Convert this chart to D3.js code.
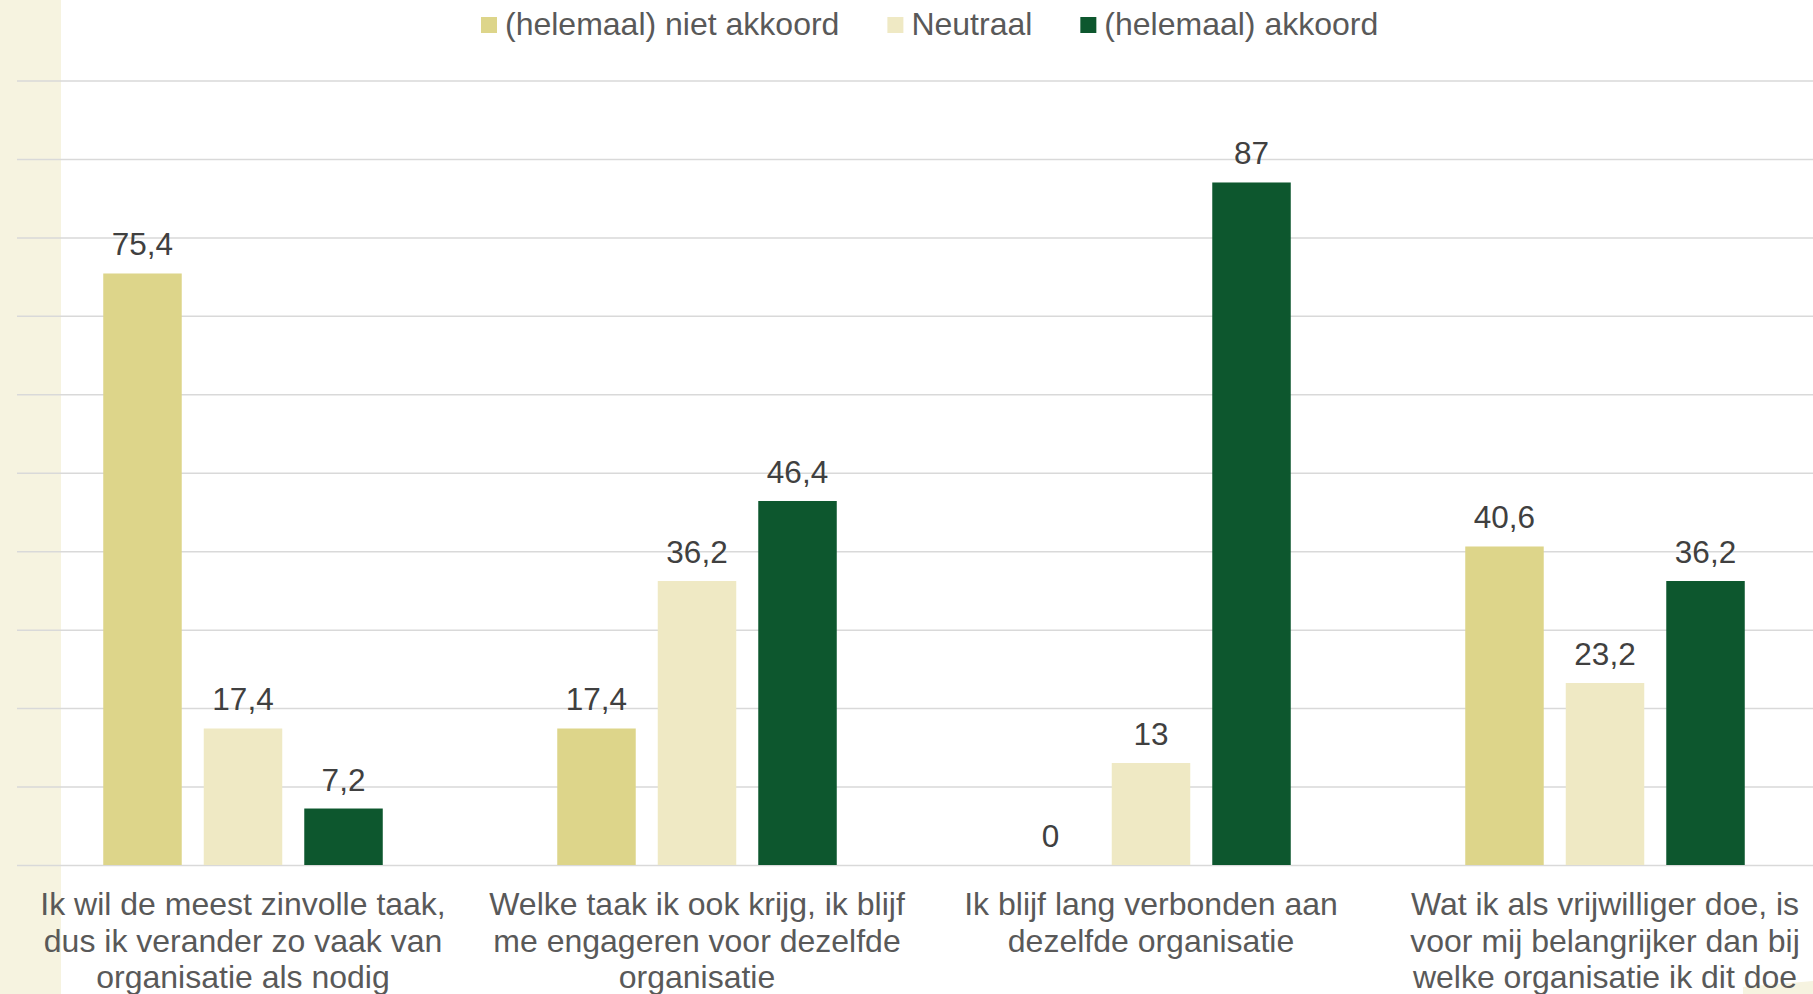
<!DOCTYPE html>
<html>
<head>
<meta charset="utf-8">
<script src="https://cdn.jsdelivr.net/npm/d3@7"></script>
<style>
  body { margin: 0; background: #fff; }
  svg { display: block; font-family: "Liberation Sans", Arial, sans-serif; }
</style>
</head>
<body>
<svg id="chart"></svg>
<script>
// data
var categories = [
  ["Ik wil de meest zinvolle taak,", "dus ik verander zo vaak van", "organisatie als nodig"],
  ["Welke taak ik ook krijg, ik blijf", "me engageren voor dezelfde", "organisatie"],
  ["Ik blijf lang verbonden aan", "dezelfde organisatie"],
  ["Wat ik als vrijwilliger doe, is", "voor mij belangrijker dan bij", "welke organisatie ik dit doe"]
];
var seriesNames = ["(helemaal) niet akkoord", "Neutraal", "(helemaal) akkoord"];
var nietAkkoord = [75.4, 17.4, 0, 40.6];
var neutraal = [17.4, 36.2, 13, 23.2];
var akkoord = [7.2, 46.4, 87, 36.2];
var yTicks = [0, 10, 20, 30, 40, 50, 60, 70, 80, 90, 100];

var colors = ["#ddd58a", "#efe9c4", "#0d572e"];

var W = 1813, H = 994;
var svg = d3.select("#chart").attr("width", W).attr("height", H);

var nl = d3.formatLocale({decimal: ",", thousands: ".", grouping: [3], currency: ["€", ""]});
var fmt = nl.format("~r");

var rows = categories.map(function(c, i) {
  return {key: i, lines: c, values: [nietAkkoord[i], neutraal[i], akkoord[i]]};
});

// cream strip on the left
svg.append("rect")
  .attr("x", 0).attr("y", 0).attr("width", 61).attr("height", H)
  .attr("fill", "#f6f3e0");

// small cream shape bottom right
svg.append("path")
  .attr("d", "M1743,994 L1743,987 L1813,981 L1813,994 Z")
  .attr("fill", "#f6f3e0");

var x0 = d3.scaleBand()
  .domain(rows.map(function(d) { return d.key; }))
  .range([16, 1832])
  .padding(0);

var x1 = d3.scaleBand()
  .domain([0, 1, 2])
  .range([0, x0.bandwidth()])
  .paddingInner(0.219)
  .paddingOuter(0.868);

var y = d3.scaleLinear()
  .domain([0, 100])
  .range([865, 80.5]);

// gridlines
var grid = svg.append("g")
  .attr("transform", "translate(17,0)")
  .call(d3.axisLeft(y).tickValues(yTicks).tickSize(-(W - 17)).tickFormat(""));
grid.select(".domain").remove();
grid.selectAll(".tick line")
  .attr("stroke", "#d9d9d9")
  .attr("stroke-width", 1.5);

// bars
var groups = svg.append("g")
  .selectAll("g")
  .data(rows)
  .enter().append("g")
  .attr("transform", function(d) { return "translate(" + x0(d.key) + ",0)"; });

groups.selectAll("rect")
  .data(function(d) { return d.values.map(function(v, j) { return {j: j, v: v}; }); })
  .enter().append("rect")
  .attr("x", function(d) { return x1(d.j); })
  .attr("y", function(d) { return y(d.v); })
  .attr("width", x1.bandwidth())
  .attr("height", function(d) { return y(0) - y(d.v); })
  .attr("fill", function(d) { return colors[d.j]; });

groups.selectAll("text")
  .data(function(d) { return d.values.map(function(v, j) { return {j: j, v: v}; }); })
  .enter().append("text")
  .attr("x", function(d) { return x1(d.j) + x1.bandwidth() / 2; })
  .attr("y", function(d) { return y(d.v) - 18; })
  .attr("text-anchor", "middle")
  .attr("font-size", 31.5)
  .attr("fill", "#404040")
  .text(function(d) { return fmt(d.v); });

// category labels
var labels = svg.append("g")
  .selectAll("text")
  .data(rows)
  .enter().append("text")
  .attr("text-anchor", "middle")
  .attr("font-size", 32)
  .attr("fill", "#595959");

labels.selectAll("tspan")
  .data(function(d) { return d.lines.map(function(l) { return {l: l, x: x0(d.key) + x0.bandwidth() / 2}; }); })
  .enter().append("tspan")
  .attr("x", function(d) { return d.x; })
  .attr("y", function(d, i) { return 915 + i * 36.5; })
  .text(function(d) { return d.l; });

// legend
var legend = svg.append("g");
var lx = 481;
seriesNames.forEach(function(name, i) {
  legend.append("rect")
    .attr("x", lx).attr("y", 17)
    .attr("width", 16).attr("height", 16)
    .attr("fill", colors[i]);
  var t = legend.append("text")
    .attr("x", lx + 24)
    .attr("y", 35)
    .attr("font-size", 32)
    .attr("fill", "#595959")
    .text(name);
  lx = lx + 24 + t.node().getComputedTextLength() + 48;
});
</script>
</body>
</html>
